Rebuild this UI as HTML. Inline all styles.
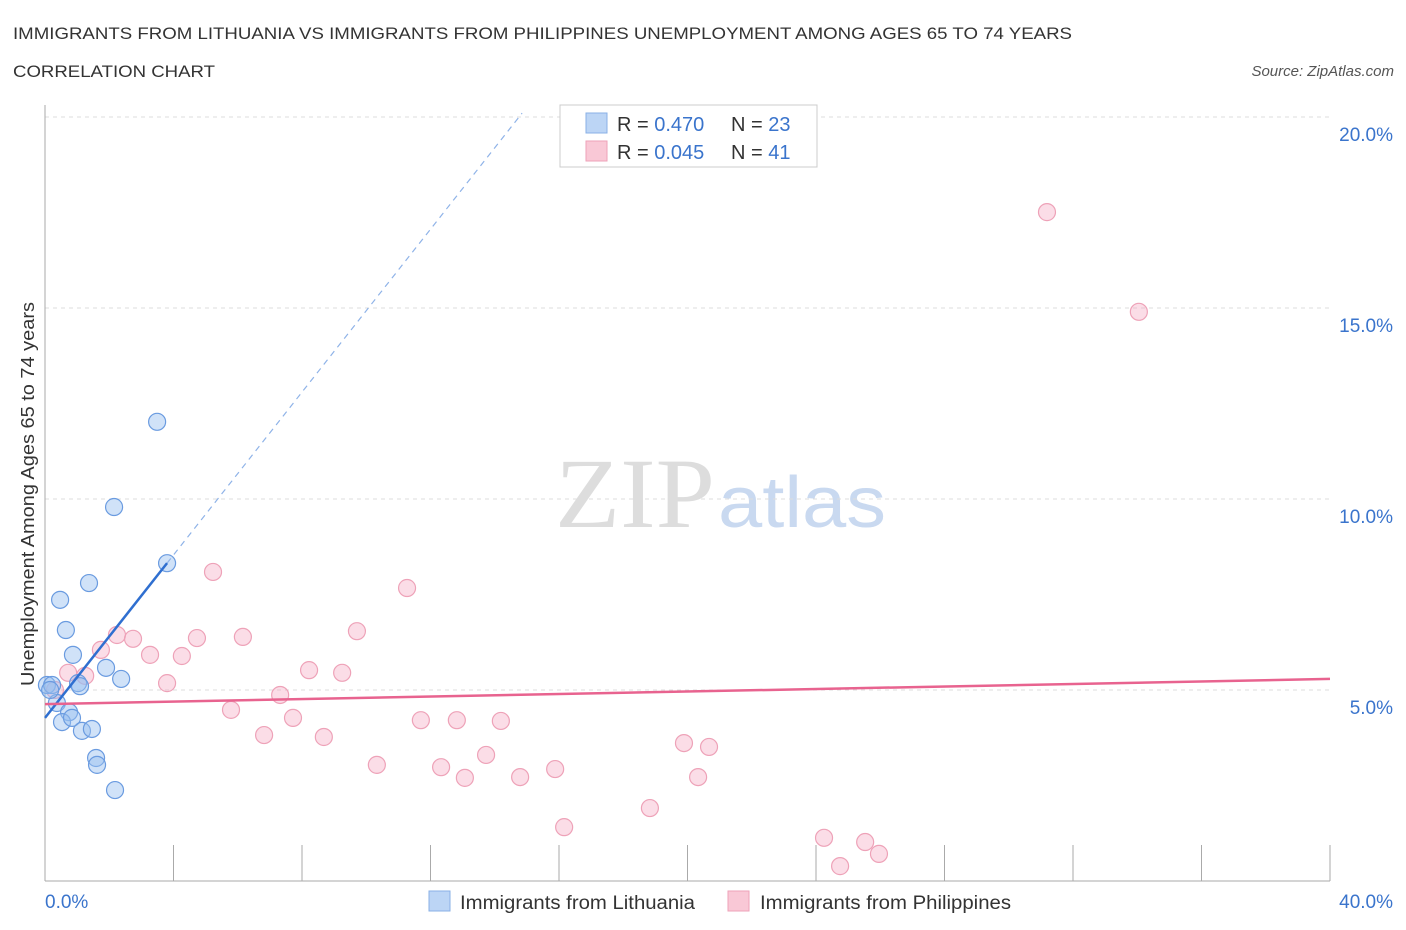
<!DOCTYPE html>
<html><head><meta charset="utf-8"><style>
body{margin:0;background:#fff;font-family:"Liberation Sans",sans-serif;}
svg{display:block}
</style></head><body>
<svg id="chart" width="1406" height="930">
<text x="13" y="39" font-size="17" fill="#333" textLength="1059" lengthAdjust="spacingAndGlyphs">IMMIGRANTS FROM LITHUANIA VS IMMIGRANTS FROM PHILIPPINES UNEMPLOYMENT AMONG AGES 65 TO 74 YEARS</text>
<text x="13" y="77" font-size="17" fill="#333" textLength="202" lengthAdjust="spacingAndGlyphs">CORRELATION CHART</text>
<text x="1394" y="76" font-size="15" fill="#555" font-style="italic" text-anchor="end">Source: ZipAtlas.com</text>
<text x="555" y="527" font-size="100" fill="#ddd" font-family="Liberation Serif,serif" textLength="160" lengthAdjust="spacingAndGlyphs">ZIP</text>
<text x="718" y="527" font-size="72" fill="#c9d9f0" textLength="168" lengthAdjust="spacingAndGlyphs">atlas</text>
<text transform="translate(34,494) rotate(-90)" font-size="18" fill="#333" text-anchor="middle" textLength="384" lengthAdjust="spacingAndGlyphs">Unemployment Among Ages 65 to 74 years</text>
<g id="grid"></g><g id="axes"></g><g id="marks"></g>
<g>
<rect x="560" y="105" width="257" height="62" fill="#fff" stroke="#ccc"/>
<rect x="586" y="113" width="21" height="20" fill="#bcd5f5" stroke="#8ab0e6"/>
<rect x="586" y="141" width="21" height="20" fill="#f9c8d6" stroke="#eea2b8"/>
<text x="617" y="131" font-size="20" fill="#333">R = <tspan fill="#3a74cc">0.470</tspan></text>
<text x="731" y="131" font-size="20" fill="#333">N = <tspan fill="#3a74cc">23</tspan></text>
<text x="617" y="159" font-size="20" fill="#333">R = <tspan fill="#3a74cc">0.045</tspan></text>
<text x="731" y="159" font-size="20" fill="#333">N = <tspan fill="#3a74cc"> 41</tspan></text>
</g>
<g>
<rect x="429" y="891" width="21" height="20" fill="#bcd5f5" stroke="#8ab0e6"/>
<text x="460" y="909" font-size="19" fill="#333" textLength="235" lengthAdjust="spacingAndGlyphs">Immigrants from Lithuania</text>
<rect x="728" y="891" width="21" height="20" fill="#f9c8d6" stroke="#eea2b8"/>
<text x="760" y="909" font-size="19" fill="#333" textLength="251" lengthAdjust="spacingAndGlyphs">Immigrants from Philippines</text>
</g>
</svg>
<script>
const yTicks=[5,10,15,20];
const xTickLabels=["0.0%","40.0%"];
const bluePts=[[3.49,12.02],[2.15,9.79],[3.80,8.32],[1.37,7.80],[0.47,7.36],[0.65,6.57],[0.87,5.92],[1.90,5.58],[2.37,5.29],[1.03,5.18],[1.09,5.10],[0.06,5.13],[0.22,5.13],[0.37,4.66],[0.75,4.42],[0.53,4.16],[0.84,4.27],[1.15,3.93],[1.46,3.98],[1.59,3.22],[1.62,3.04],[2.18,2.38],[0.16,5.0]];
const pinkPts=[[31.19,17.51],[34.05,14.90],[5.23,8.09],[11.27,7.67],[9.71,6.54],[6.16,6.39],[4.73,6.36],[2.24,6.44],[2.74,6.34],[3.27,5.92],[4.26,5.89],[1.74,6.05],[8.22,5.52],[9.25,5.45],[3.80,5.18],[1.25,5.37],[0.72,5.45],[0.31,5.0],[7.32,4.87],[5.79,4.48],[7.72,4.27],[11.70,4.21],[12.82,4.21],[14.19,4.19],[6.82,3.82],[8.68,3.77],[13.73,3.30],[10.33,3.04],[12.33,2.98],[15.88,2.93],[13.07,2.70],[14.79,2.72],[19.89,3.61],[20.67,3.51],[20.33,2.72],[18.83,1.91],[16.16,1.41],[24.25,1.13],[25.53,1.02],[25.96,0.71],[24.75,0.39]];
const blueTrend=[4.27,1.066];
const pinkTrend=[4.63,0.0165];
const NS="http://www.w3.org/2000/svg";
const X=v=>45+v*32.125, Y=v=>881-v*38.2;
function mk(p,t,a){const e=document.createElementNS(NS,t);for(const k in a)e.setAttribute(k,a[k]);p.appendChild(e);return e;}
const grid=document.getElementById('grid'),axes=document.getElementById('axes'),marks=document.getElementById('marks');
yTicks.forEach(t=>{
 const l=mk(grid,'line',{x1:45,x2:1330,y1:Y(t),y2:Y(t),stroke:'#ddd','stroke-dasharray':'4,4'});
 
 
 const tx=mk(grid,'text',{x:1393,y:Y(t)+24,'font-size':19,fill:'#3a74cc','text-anchor':'end'});
 tx.textContent=t.toFixed(1)+'%';
 
 
});
const ax=mk(axes,'line',{x1:45,x2:45,y1:105,y2:881,stroke:'#aaa'});


const bx=mk(axes,'line',{x1:45,x2:1330,y1:881,y2:881,stroke:'#aaa'});


for(let i=1;i<=10;i++){
 const t=mk(axes,'line',{x1:X(i*4),x2:X(i*4),y1:845,y2:881,stroke:'#aaa'});
 
 
}
const xl0=mk(axes,'text',{x:45,y:908,'font-size':19,fill:'#3a74cc'});xl0.textContent=xTickLabels[0];


const xl1=mk(axes,'text',{x:1393,y:908,'font-size':19,fill:'#3a74cc','text-anchor':'end'});xl1.textContent=xTickLabels[1];


pinkPts.forEach(p=>{
 const c=mk(marks,'circle',{cx:X(p[0]),cy:Y(p[1]),r:8.5,fill:'rgba(246,170,195,0.4)',stroke:'#eea2b8','stroke-width':1.2});
 
 
});
bluePts.forEach(p=>{
 const c=mk(marks,'circle',{cx:X(p[0]),cy:Y(p[1]),r:8.5,fill:'rgba(150,190,240,0.45)',stroke:'#6a9be0','stroke-width':1.2});
 
 
});
const bx1=0,bx2=3.8,bx3=14.85;
const bs=mk(marks,'line',{x1:X(bx1),y1:Y(blueTrend[0]),x2:X(bx2),y2:Y(blueTrend[0]+blueTrend[1]*bx2),stroke:'#2f6fd0','stroke-width':2.5});


const bd=mk(marks,'line',{x1:X(bx2),y1:Y(blueTrend[0]+blueTrend[1]*bx2),x2:X(bx3),y2:Y(blueTrend[0]+blueTrend[1]*bx3),stroke:'#8fb3e8','stroke-width':1.2,'stroke-dasharray':'6,5'});


const pl=mk(marks,'line',{x1:X(0),y1:Y(pinkTrend[0]),x2:X(40),y2:Y(pinkTrend[0]+pinkTrend[1]*40),stroke:'#e8638f','stroke-width':2.5});


</script>
</body></html>
